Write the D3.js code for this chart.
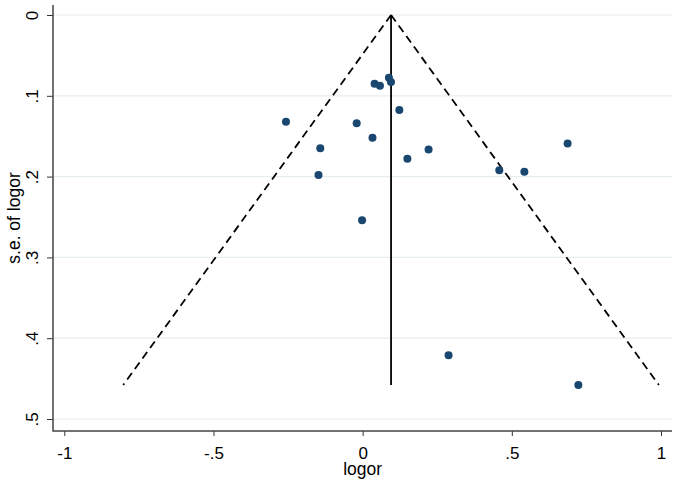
<!DOCTYPE html>
<html>
<head>
<meta charset="utf-8">
<script src="https://cdn.jsdelivr.net/npm/d3@7"></script>
<style>
  body { margin: 0; background: #fff; }
  text { font-family: "Liberation Sans", Arial, sans-serif; }
</style>
</head>
<body>
<svg id="funnel" width="678" height="483"></svg>
<script>
// study estimates (log odds ratio) and their standard errors
const logor = [
  -0.257, -0.142, -0.148, -0.02, 0.033, 0.04, 0.058, 0.088, 0.095,
  0.123, 0.15, 0.221, 0.458, 0.542, 0.687, 0.288, -0.002, 0.723,
];
const se = [
  0.132, 0.165, 0.198, 0.134, 0.152, 0.085, 0.0875, 0.0776, 0.083,
  0.1176, 0.178, 0.1665, 0.192, 0.194, 0.159, 0.421, 0.254, 0.458,
];
const pooled = 0.0952;
const xTicks = [-1, -0.5, 0, 0.5, 1];
const yTicks = [0, 0.1, 0.2, 0.3, 0.4, 0.5];

function fmt(v) {
  if (v === 0) return "0";
  return String(v).replace("0.", ".");
}

function funnel() {
  const svg = d3.select("#funnel");
  const left = 53,
    right = 672,
    top = 5,
    bottom = 431;

  const x = d3.scaleLinear().domain([-1, 1]).range([64.3, 661]);
  const y = d3.scaleLinear().domain([0, 0.5]).range([15, 419]);

  // gridlines
  svg
    .selectAll("line.grid")
    .data(yTicks)
    .join("line")
    .attr("class", "grid")
    .attr("x1", left)
    .attr("x2", right)
    .attr("y1", (d) => y(d))
    .attr("y2", (d) => y(d))
    .attr("stroke", "#e6eef1")
    .attr("stroke-width", 1.2);

  // axes
  const xAxis = d3
    .axisBottom(x)
    .tickValues(xTicks)
    .tickFormat(fmt)
    .tickSize(5)
    .tickSizeOuter(0);
  const gx = svg
    .append("g")
    .attr("transform", `translate(0,${bottom})`)
    .call(xAxis);
  gx.select(".domain").remove();
  gx.selectAll("line").attr("stroke", "#333");
  gx.selectAll("text")
    .attr("y", 0)
    .attr("dy", 28)
    .style("font-size", "17px")
    .attr("fill", "#000");

  const yAxis = d3
    .axisLeft(y)
    .tickValues(yTicks)
    .tickFormat(fmt)
    .tickSize(6)
    .tickSizeOuter(0);
  const gy = svg.append("g").attr("transform", `translate(${left},0)`).call(yAxis);
  gy.select(".domain").remove();
  gy.selectAll("line").attr("stroke", "#333");
  gy.selectAll("text")
    .attr("x", 0)
    .attr("dy", 0)
    .attr("text-anchor", "middle")
    .attr("transform", "translate(-15.5,0) rotate(-90)")
    .style("font-size", "17px")
    .attr("fill", "#000");

  svg
    .append("path")
    .attr("d", `M${left},${top}V${bottom}H${right}`)
    .attr("fill", "none")
    .attr("stroke", "#444")
    .attr("stroke-width", 1.5);

  // axis titles
  svg
    .append("text")
    .attr("x", x(0))
    .attr("y", 475)
    .attr("text-anchor", "middle")
    .style("font-size", "17.5px")
    .text("logor");
  svg
    .append("text")
    .attr("transform", `translate(20,${(top + bottom) / 2}) rotate(-90)`)
    .attr("text-anchor", "middle")
    .style("font-size", "17.5px")
    .text("s.e. of logor");

  // pseudo 95% confidence limits
  const seMax = d3.max(se);
  const limits = [
    [[pooled, 0], [pooled - 1.96 * seMax, seMax]],
    [[pooled, 0], [pooled + 1.96 * seMax, seMax]],
  ];
  const line = d3
    .line()
    .x((d) => x(d[0]))
    .y((d) => y(d[1]));
  svg
    .selectAll("path.limit")
    .data(limits)
    .join("path")
    .attr("class", "limit")
    .attr("d", line)
    .attr("fill", "none")
    .attr("stroke", "#000")
    .attr("stroke-width", 1.8)
    .attr("stroke-dasharray", "8,5");

  svg
    .append("path")
    .attr("d", line([[pooled, 0], [pooled, seMax]]))
    .attr("stroke", "#000")
    .attr("stroke-width", 1.8);

  // studies
  svg
    .selectAll("circle")
    .data(logor.map((v, i) => ({ v, s: se[i] })))
    .join("circle")
    .attr("cx", (d) => x(d.v))
    .attr("cy", (d) => y(d.s))
    .attr("r", 4)
    .attr("fill", "#1a476f");
}

funnel();
</script>
</body>
</html>
